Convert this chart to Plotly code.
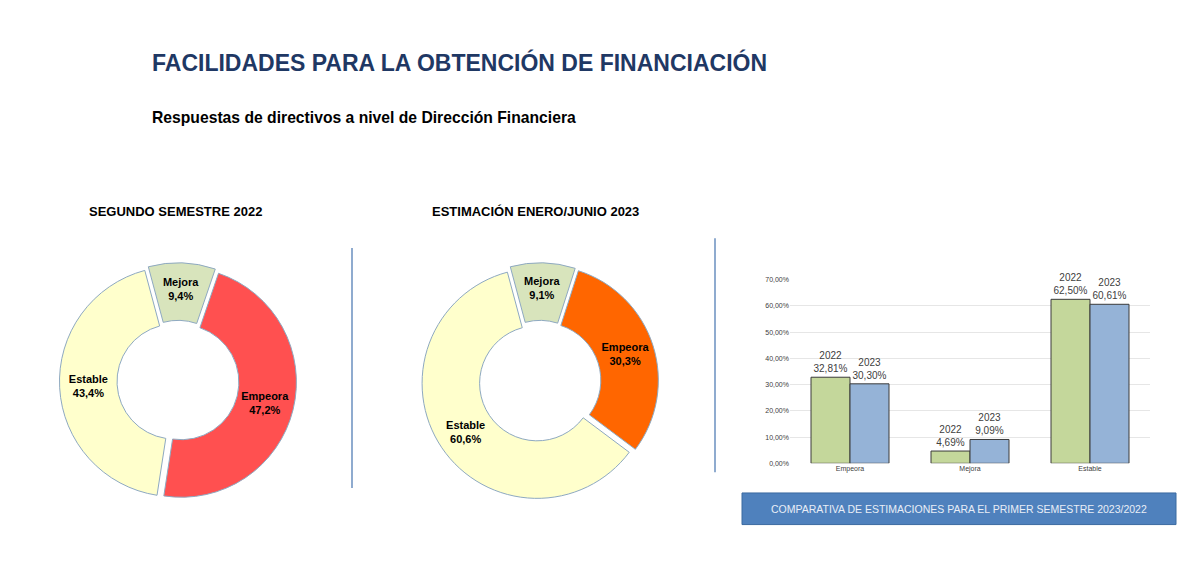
import plotly.graph_objects as go

# Datos
labels = ["Mejora", "Empeora", "Estable"]
sem2022 = [9.4, 47.2, 43.4]
est2023 = [9.1, 30.3, 60.6]

bar_cats = ["Empeora", "Mejora", "Estable"]
bar_2022 = [0.3281, 0.0469, 0.6250]
bar_2023 = [0.3030, 0.0909, 0.6061]

W, H = 1200, 565
def px(x): return (x - 8) / W
def py(y): return 1 - (y - 6) / H

fig = go.Figure()

def pie_text(vals):
    return [f"{l}<br>{str(v).replace('.', ',')}%" for l, v in zip(labels, vals)]

fig.add_trace(go.Pie(
    values=sem2022, labels=labels, text=pie_text(sem2022), textinfo="text",
    hole=0.5, sort=False, direction="clockwise", rotation=-15,
    pull=[0.03, 0.03, 0.03],
    marker=dict(colors=["#D8E4BC", "#FF5050", "#FFFFCC"], line=dict(color="#8EA9C1", width=1)),
    textfont=dict(family="Liberation Sans", size=11, color="black", weight="bold"),
    insidetextorientation="horizontal",
    domain=dict(x=[px(58), px(298)], y=[py(500), py(260)]), showlegend=False,
))
fig.add_trace(go.Pie(
    values=est2023, labels=labels, text=pie_text(est2023), textinfo="text",
    hole=0.5, sort=False, direction="clockwise", rotation=-15,
    pull=[0.03, 0.03, 0.03],
    marker=dict(colors=["#D8E4BC", "#FF6600", "#FFFFCC"], line=dict(color="#8EA9C1", width=1)),
    textfont=dict(family="Liberation Sans", size=11, color="black", weight="bold"),
    insidetextorientation="horizontal",
    domain=dict(x=[px(420), px(660)], y=[py(500), py(260)]), showlegend=False,
))

fig.add_trace(go.Bar(
    x=bar_cats, y=bar_2022, name="2022",
    marker=dict(color="#C4D79B", line=dict(color="#3A3A3A", width=1)),
    text=[f"2022<br>{v*100:.2f}%".replace(".", ",") for v in bar_2022],
    textposition="outside", textfont=dict(size=10, color="#404040"),
    cliponaxis=False, showlegend=False,
))
fig.add_trace(go.Bar(
    x=bar_cats, y=bar_2023, name="2023",
    marker=dict(color="#95B3D7", line=dict(color="#3A3A3A", width=1)),
    text=[f"2023<br>{v*100:.2f}%".replace(".", ",") for v in bar_2023],
    textposition="outside", textfont=dict(size=10, color="#404040"),
    cliponaxis=False, showlegend=False,
))

def note(text, x, y, size, color, xanchor="center"):
    return dict(text=text, x=px(x), y=py(y), xref="paper", yref="paper",
                xanchor=xanchor, yanchor="middle", showarrow=False,
                font=dict(size=size, color=color))

fig.update_layout(
    width=W, height=H, margin=dict(l=0, r=0, t=0, b=0),
    paper_bgcolor="white", plot_bgcolor="white",
    separators=",.", barmode="group", bargap=0.35, bargroupgap=0,
    font=dict(family="Liberation Sans"),
    xaxis=dict(domain=[px(790), px(1150)], tickfont=dict(size=7, color="#404040"),
               showline=False, ticks=""),
    yaxis=dict(domain=[py(463), py(277)], range=[0, 0.7], dtick=0.1, tickformat=".2%",
               tickfont=dict(size=7, color="#404040"), gridcolor="#E6E6E6", zeroline=False),
    shapes=[
        dict(type="line", xref="paper", yref="paper", x0=px(352), x1=px(352),
             y0=py(245), y1=py(488), line=dict(color="#6A8FBF", width=1.5)),
        dict(type="line", xref="paper", yref="paper", x0=px(715), x1=px(715),
             y0=py(235), y1=py(472), line=dict(color="#6A8FBF", width=1.5)),
        dict(type="rect", xref="paper", yref="paper", x0=px(742), x1=px(1176),
             y0=py(525), y1=py(493), fillcolor="#4F81BD", line=dict(color="#3B6AA0", width=1)),
    ],
    annotations=[
        note("<b>FACILIDADES PARA LA OBTENCIÓN DE FINANCIACIÓN</b>", 150, 57, 23, "#1F3864", "left"),
        note("<b>Respuestas de directivos a nivel de Dirección Financiera</b>", 150, 113, 15.7, "black", "left"),
        note("<b>SEGUNDO SEMESTRE 2022</b>", 175, 208, 13, "black"),
        note("<b>ESTIMACIÓN ENERO/JUNIO 2023</b>", 535, 208, 13, "black"),
        note("COMPARATIVA DE ESTIMACIONES PARA EL PRIMER SEMESTRE 2023/2022", 959, 509, 10.5, "#E8EEF7"),
    ],
)

fig.write_html("out.html")
